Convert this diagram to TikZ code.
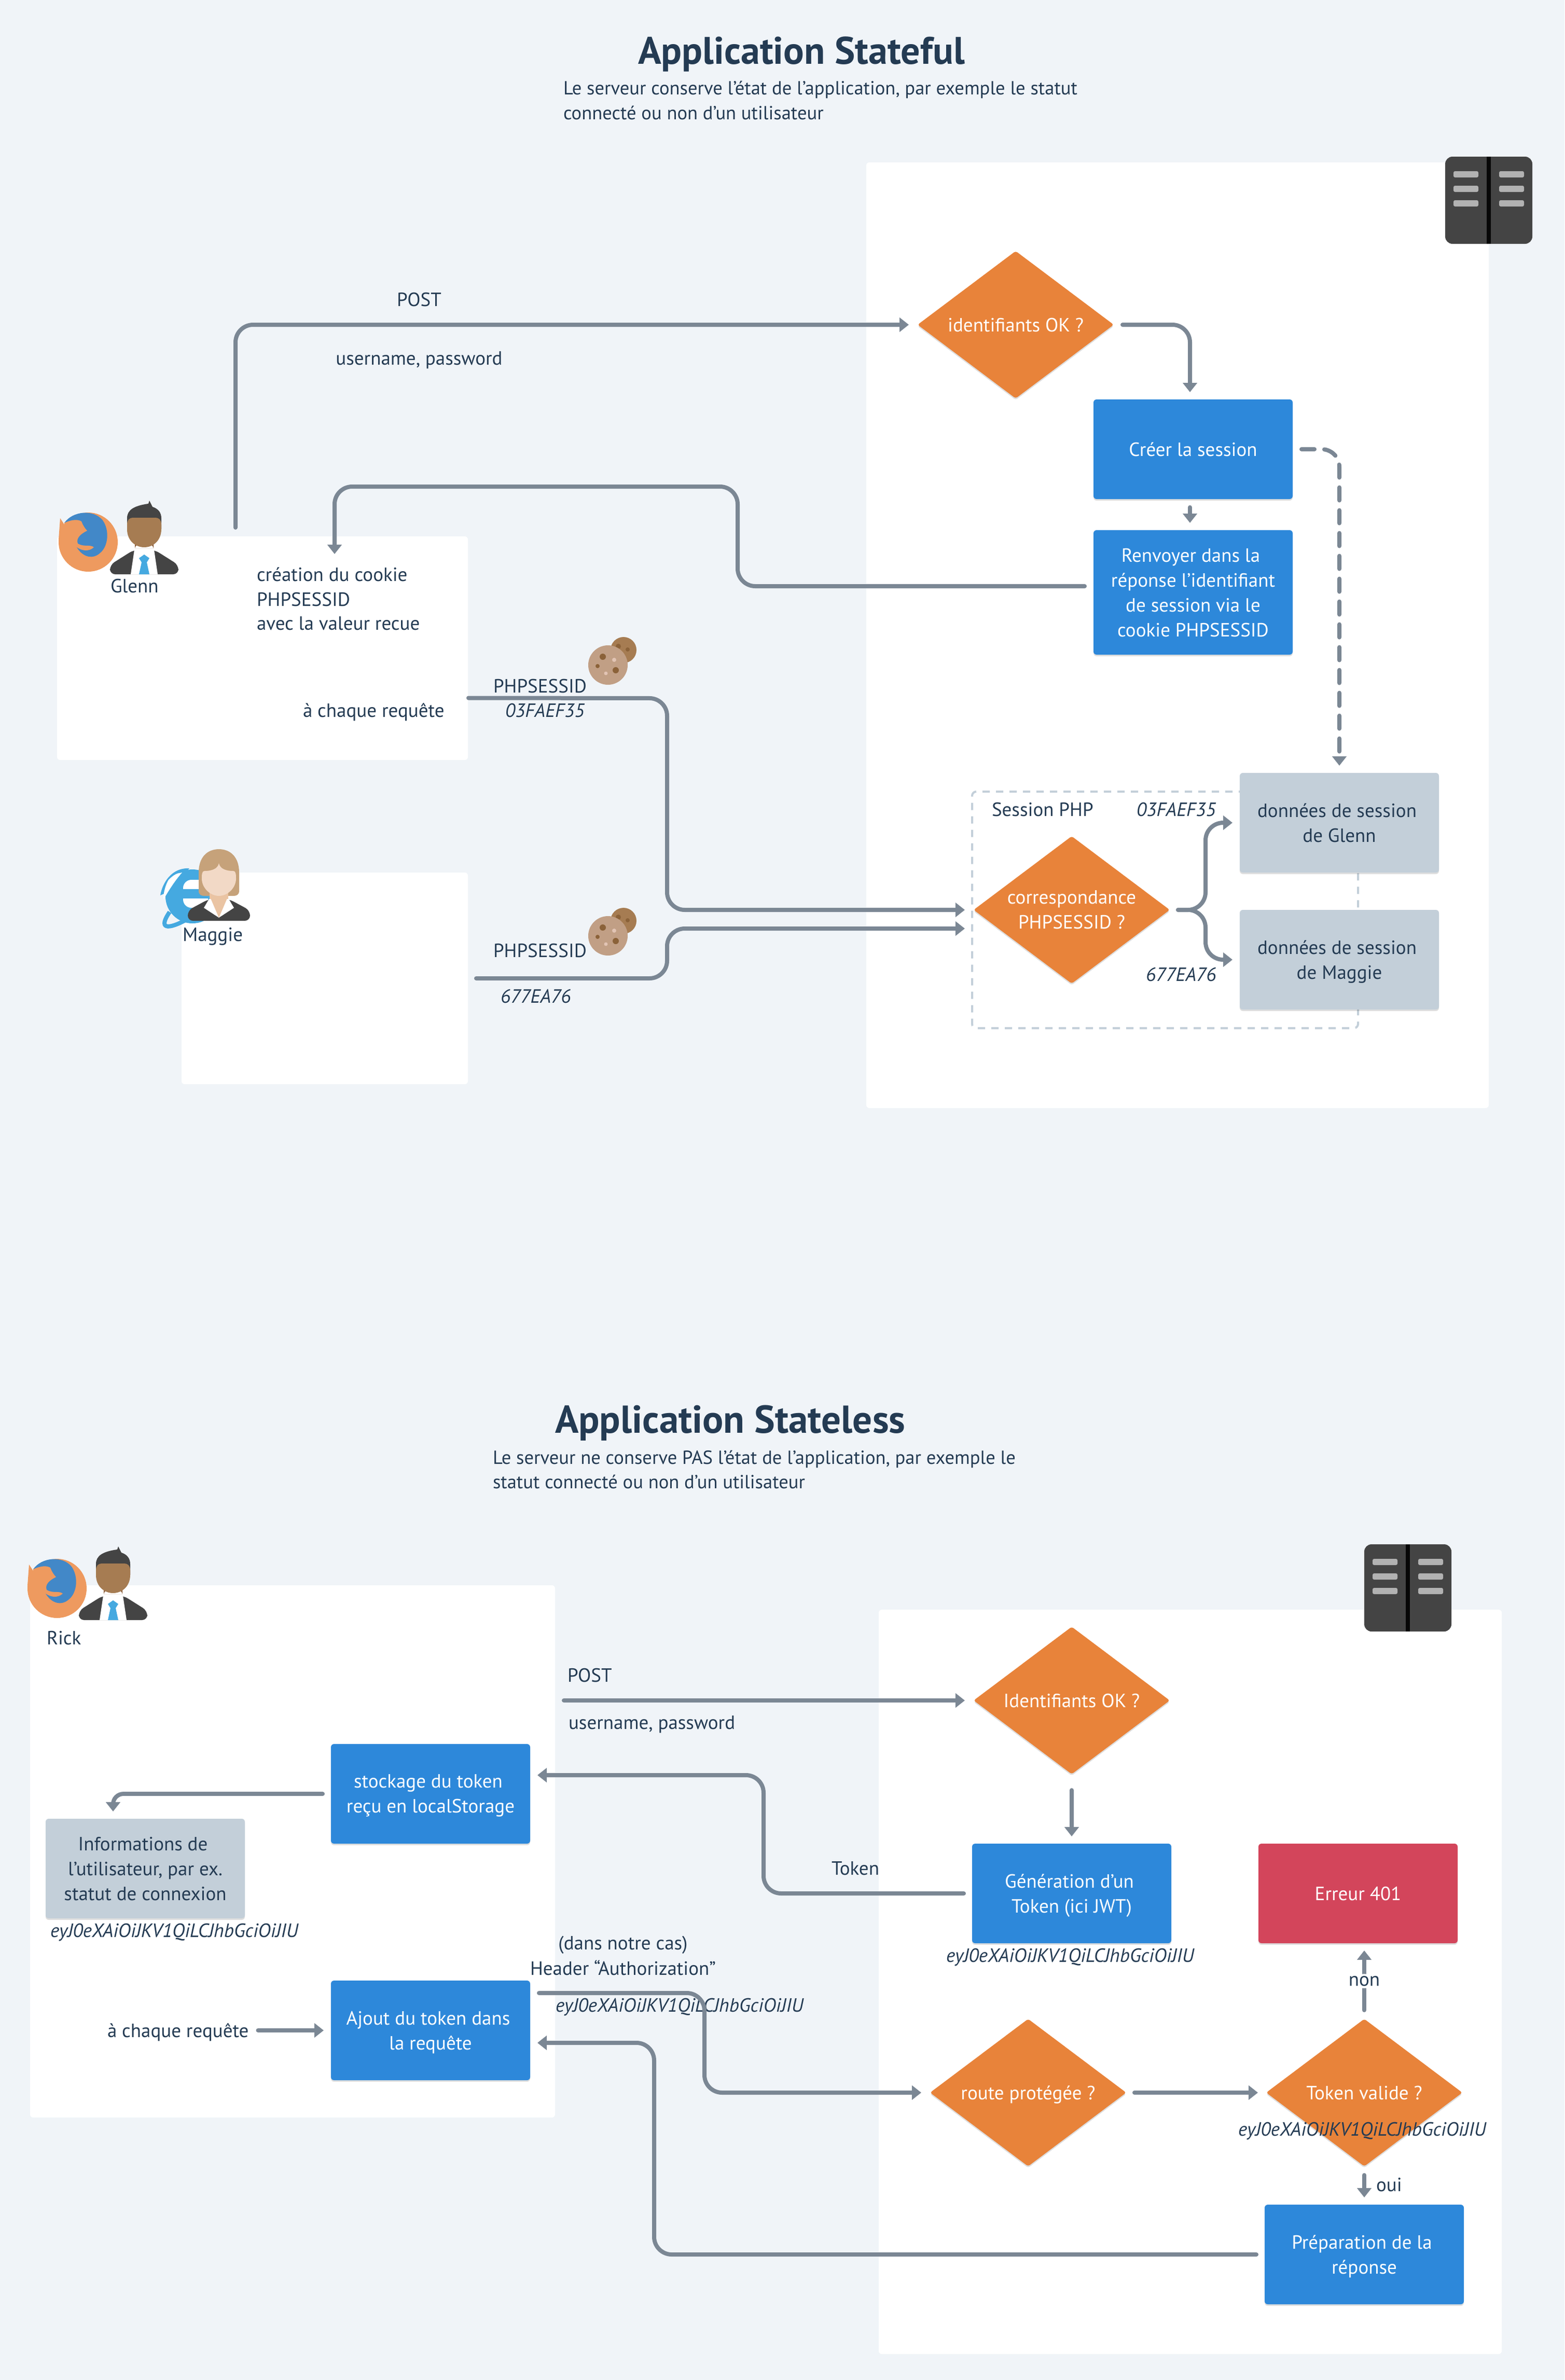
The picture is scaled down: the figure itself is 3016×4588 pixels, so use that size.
\documentclass[tikz,border=0pt]{standalone}
\usepackage{fontspec}
\setmainfont{PT Sans}
\usetikzlibrary{arrows.meta,shapes.geometric,shadows}
\definecolor{pagebg}{HTML}{F0F4F8}
\definecolor{ink}{HTML}{243B53}
\definecolor{wire}{HTML}{7B8794}
\definecolor{flowblue}{HTML}{2D88DA}
\definecolor{floworange}{HTML}{E8833A}
\definecolor{flowgrey}{HTML}{C3CFD9}
\definecolor{flowred}{HTML}{D3455B}
\definecolor{icondark}{HTML}{444444}
\definecolor{skinman}{HTML}{A67C52}
\definecolor{skinneck}{HTML}{8B5E3C}
\definecolor{hairwoman}{HTML}{C6A27A}
\definecolor{skinwoman}{HTML}{F2D9C6}
\definecolor{neckwoman}{HTML}{EAC4A3}
\definecolor{skyblue}{HTML}{45A9E0}
\definecolor{foxorange}{HTML}{EE9A5F}
\definecolor{foxblue}{HTML}{4288C8}
\definecolor{cookiedark}{HTML}{A67C52}
\definecolor{cookiebig}{HTML}{C19F85}
\definecolor{cookiespot}{HTML}{8B6239}
\definecolor{cookielight}{HTML}{E2C4B4}
\newcommand{\brk}{\hspace*{4.5pt}\\}
\tikzset{
  softshadow/.style={drop shadow={shadow xshift=0pt,shadow yshift=-1.5pt,opacity=.13,fill=black}},
  panel/.style={fill=white,rounded corners=3pt,inner sep=0pt,outer sep=0pt},
  flowbox/.style={rounded corners=3pt,inner sep=0pt,outer sep=0pt,align=center,text depth=0pt,
    minimum width=192pt,minimum height=96pt,softshadow},
  bluebox/.style={flowbox,fill=flowblue,text=white},
  greybox/.style={flowbox,fill=flowgrey,text=ink},
  redbox/.style={flowbox,fill=flowred,text=white},
  test/.style={diamond,aspect=1.33,inner sep=0pt,outer sep=0pt,minimum width=189pt,minimum height=142pt,
    rounded corners=2pt,fill=floworange,text=white,align=center,text depth=0pt,softshadow},
  lbl/.style={anchor=base west,inner sep=0pt,outer sep=0pt,text=ink},
  val/.style={lbl,font=\fontsize{18.5}{24}\selectfont\itshape},
  desc/.style={lbl,font=\fontsize{18.3}{24}\selectfont},
  headline/.style={lbl,font=\fontsize{37}{44}\selectfont\bfseries},
  mid/.style={anchor=base,inner sep=0pt,outer sep=0pt,text=ink,align=center},
  wires/.style={draw=wire,line width=4pt,line cap=round,rounded corners=17pt},
  flow/.style={wires,-{Triangle[width=13.5pt,length=9pt]}},
  bar/.style={fill=white!70!black,rounded corners=1.5pt},
  servericon/.pic={
    \fill[icondark,rounded corners=7pt] (0,0) rectangle (168,168);
    \fill[black!90!icondark] (80,0) rectangle (88,168);
    \foreach \y in {28,56,84} {
      \fill[bar] (16,\y) rectangle +(48,12);
      \fill[bar] (104,\y) rectangle +(48,12);
    }
  },
  manicon/.pic={
    \fill[icondark,rounded corners=5pt] (-66,142) -- (-66,124) -- (-20,95) -- (20,95) -- (66,124) -- (66,142) -- cycle;
    \fill[white] (-19,95) -- (19,95) -- (26,142) -- (-26,142) -- cycle;
    \fill[skinneck] (-18,70) rectangle (18,92) (-18,92) arc[start angle=180,end angle=360,x radius=18,y radius=10];
    \fill[icondark] (-33,55) -- (-33,34) .. controls (-33,18) and (-20,10) .. (8,6) -- (10,0) -- (16,12) .. controls (28,16) and (33,24) .. (33,34) -- (33,55) -- cycle;
    \fill[skinman] (-33,46) .. controls (-33,37) and (-28,33) .. (-22,33) -- (22,33) .. controls (28,33) and (33,37) .. (33,46) -- (33,55) .. controls (33,78) and (16,90) .. (0,90) .. controls (-16,90) and (-33,78) .. (-33,55) -- cycle;
    \fill[skyblue] (0,104) -- (10,111) -- (5,119) -- (10,142) -- (-10,142) -- (-5,119) -- (-10,111) -- cycle;
  },
  womanicon/.pic={
    \fill[hairwoman] (-39,80) -- (-39,45) .. controls (-39,15) and (-22,0) .. (0,0) .. controls (22,0) and (39,15) .. (39,45) -- (39,80) .. controls (39,88) and (34,90) .. (28,90) -- (-28,90) .. controls (-34,90) and (-39,88) .. (-39,80) -- cycle;
    \fill[neckwoman] (-18,80) rectangle (18,100);
    \fill[icondark,rounded corners=5pt] (-60,138) -- (-60,118) -- (-19,96) -- (19,96) -- (60,118) -- (60,138) -- cycle;
    \fill[white] (-19,96) -- (19,96) -- (29,113) -- (0,132) -- (-29,113) -- cycle;
    \fill[neckwoman] (-18,90) -- (18,90) -- (0,132) -- cycle;
    \fill[skinwoman] (0,27) .. controls (2,38) and (14,42) .. (28,42) .. controls (33,42) and (33,50) .. (33,58) .. controls (32,76) and (16,90) .. (0,90) .. controls (-16,90) and (-32,76) .. (-33,58) .. controls (-33,50) and (-33,42) .. (-28,42) .. controls (-14,42) and (-2,38) .. (0,27) -- cycle;
  },
  foxicon/.pic={
    \fill[foxorange] (0,0) circle (57);
    \fill[foxorange] (-57,-5) -- (-54,-46) -- (-38,-22) -- cycle;
    \fill[foxblue] (-46,-37) .. controls (-30,-60) and (10,-64) .. (28,-42) .. controls (42,-22) and (38,8) .. (24,20) .. controls (10,34) and (-10,30) .. (-22,10) -- (-20,-20) -- cycle;
    \fill[foxorange] (-46,-37) .. controls (-30,-44) and (-20,-44) .. (-13,-40) .. controls (-10,-32) and (-6,-26) .. (-2,-22) .. controls (-14,-16) and (-24,-8) .. (-20,3) .. controls (-8,10) and (4,4) .. (11,10) .. controls (2,18) and (-10,18) .. (-22,10) -- (-46,-10) -- cycle;
  },
  ieicon/.pic={
    \fill[skyblue] (0,0) circle (52);
    \draw[skyblue,line width=4pt] (-44,30) .. controls (-66,62) and (-50,66) .. (-10,44);
    \fill[skyblue] (-6,-54) .. controls (-40,-56) and (-58,-26) .. (-62,-2) -- (-44,-10) -- cycle;
    \fill[white] (-46,-32) .. controls (-30,-48) and (-24,-44) .. (-20,-46) .. controls (-34,-30) and (-44,-14) .. (-56,6) .. controls (-56,-8) and (-52,-22) .. (-46,-32) -- cycle;
    \fill[white,rounded corners=8pt] (-18,-32) rectangle (30,22);
    \fill[skyblue] (-18,-14) rectangle (30,4);
  },
  cookieicon/.pic={
    \fill[cookiedark] (30,-29) circle (25);
    \fill[cookiespot] (20,-36) circle (5) (38,-30) circle (4);
    \fill[cookiebig] (0,0) circle (38);
    \fill[cookiespot] (-10,-16) circle (6) (-20,2) circle (4) (15,10) circle (6);
    \fill[cookielight] (12,-10) circle (4) (-4,16) circle (3.5);
  }
}
\begin{document}
\begin{tikzpicture}[x=0.5pt,y=-0.5pt,font=\fontsize{18.5}{24}\selectfont]
\useasboundingbox (0,0) rectangle (3016,4588);
\fill[pagebg] (0,0) rectangle (3016,4588);

% stateful
\node[headline] (titlefull) at (1230,123) {Application Stateful};
\node[desc] (descfull1) at (1086,182) {Le serveur conserve l'état de l'application, par exemple le statut};
\node[desc] (descfull2) at (1086,230) {connecté ou non d'un utilisateur};

\node[panel,minimum width=600pt,minimum height=911.5pt] (srvfull) at (2270,1224.5) {};
\node[panel,minimum width=396pt,minimum height=215.5pt] (glenn) at (506,1249.5) {};
\node[panel,minimum width=276pt,minimum height=204pt] (maggie) at (626,1886) {};
\pic at (2786,302) {servericon};

\pic at (170,1045) {foxicon};
\pic at (278,965) {manicon};
\pic at (371,1728) {ieicon};
\pic at (422,1637) {womanicon};
\pic at (1172,1282) {cookieicon};
\pic at (1172,1804) {cookieicon};

\node[test] (idok) at (1958,626) {identifiants OK ?};
\node[bluebox] (creer) at (2300,866) {Créer la session};
\node[bluebox,minimum height=120pt] (renvoi) at (2300,1142) {Renvoyer dans la\brk réponse l'identifiant\brk de session via le\brk cookie PHPSESSID};

\node[draw=flowgrey,line width=2pt,dash pattern=on 7pt off 6pt,rounded corners=4pt,minimum width=372pt,minimum height=228pt,inner sep=0pt,outer sep=0pt] (sessionphp) at (2246,1754) {};
\node[greybox] (dataglenn) at (2582,1586) {données de session\brk de Glenn};
\node[greybox] (datamaggie) at (2582,1850) {données de session\brk de Maggie};
\node[test] (corresp) at (2066,1754) {correspondance\\PHPSESSID ?};

\node[mid] (postfull) at (808,590) {POST};
\node[mid] (credfull) at (808,703) {username, password};
\node[lbl] (glennname) at (213,1142) {Glenn};
\node[lbl] (cookiemake1) at (495,1120) {création du cookie};
\node[lbl] (cookiemake2) at (495,1168) {PHPSESSID};
\node[lbl] (cookiemake3) at (495,1214) {avec la valeur recue};
\node[lbl] (eachfull) at (584,1382) {à chaque requête};
\node[lbl] (glenncookie) at (951,1335) {PHPSESSID};
\node[val] (glennval) at (974,1382) {03FAEF35};
\node[lbl] (maggiename) at (352,1814) {Maggie};
\node[lbl] (maggiecookie) at (951,1845) {PHPSESSID};
\node[val] (maggieval) at (965,1933) {677EA76};
\node[lbl] (sessionname) at (1912,1573) {Session PHP};
\node[val] (sessionglenn) at (2191,1573) {03FAEF35};
\node[val] (sessionmaggie) at (2209,1891) {677EA76};

\draw[flow,shorten <=8.5pt,shorten >=8.5pt] ([xshift=-26pt]glenn.north) |- (idok.west);
\draw[flow,shorten <=8.5pt,shorten >=7pt] (idok.east) -| ([xshift=-3pt]creer.north);
\draw[flow,shorten <=8pt,shorten >=7pt] ([xshift=-3pt]creer.south) -- ([xshift=-3pt]renvoi.north);
\draw[flow,shorten <=8.5pt] ([yshift=6pt]renvoi.west) -- (1422,1130) -- (1422,938) -- (645,938) -- ([xshift=69.5pt,yshift=-17pt]glenn.north);
\draw[flow,dash pattern=on 12.5pt off 9.5pt,shorten <=8.5pt,shorten >=7pt] (creer.east) -| (dataglenn.north);
\draw[flow,shorten >=8.5pt] ([xshift=0.5pt,yshift=-48pt]glenn.east) -- (1286,1346) -- (1286,1754) -- (corresp.west);
\draw[flow,shorten <=8pt,shorten >=8.5pt] (maggie.east) -- (1286,1886) -- (1286,1790) -- ([yshift=-18pt]corresp.west);
\draw[flow,shorten <=8pt,shorten >=7pt] (corresp.east) -- (2324,1754) -- (2324,1586) -- (dataglenn.west);
\draw[flow,shorten <=8pt,shorten >=7pt] (corresp.east) -- (2324,1754) -- (2324,1850) -- (datamaggie.west);

% stateless
\node[headline,font=\fontsize{37.5}{44}\selectfont\bfseries] (titleless) at (1070,2762) {Application Stateless};
\node[desc] (descless1) at (950,2822) {Le serveur ne conserve PAS l'état de l'application, par exemple le};
\node[desc] (descless2) at (950,2869) {statut connecté ou non d'un utilisateur};

\node[panel,minimum width=600.5pt,minimum height=717.5pt] (srvless) at (2294.5,3820.5) {};
\node[panel,minimum width=506pt,minimum height=513pt] (rick) at (564,3569) {};
\pic at (2630,2977) {servericon};
\pic at (110,3062) {foxicon};
\pic at (218,2981) {manicon};

\node[bluebox] (stockage) at (830,3458) {stockage du token\brk reçu en localStorage};
\node[bluebox] (ajout) at (830,3914) {Ajout du token dans\brk la requête};
\node[greybox] (infos) at (280,3602) {Informations de\brk l'utilisateur, par ex.\brk statut de connexion};
\node[test] (idokless) at (2066,3278) {Identifiants OK ?};
\node[bluebox] (generer) at (2066,3650) {Génération d'un\brk Token (ici JWT)};
\node[redbox] (erreur) at (2618,3650) {Erreur 401};
\node[test] (route) at (1982,4034) {route protégée ?};
\node[test] (valide) at (2630,4034) {Token valide ?};
\node[bluebox] (prepa) at (2630,4346) {Préparation de la\brk réponse};

\node[lbl] (rickname) at (90,3170) {Rick};
\node[val] (tokeninfos) at (97,3734) {eyJ0eXAiOiJKV1QiLCJhbGciOiJIU};
\node[lbl] (eachless) at (207,3927) {à chaque requête};
\node[lbl] (postless) at (1094,3242) {POST};
\node[lbl] (credless) at (1096,3333) {username, password};
\node[lbl] (tokenname) at (1603,3614) {Token};
\node[mid] (casname) at (1201,3758) {(dans notre cas)};
\node[mid] (headername) at (1201,3807) {Header “Authorization”};
\node[val] (tokenheader) at (1071,3878) {eyJ0eXAiOiJKV1QiLCJhbGciOiJIU};
\node[val] (tokengen) at (1824,3782) {eyJ0eXAiOiJKV1QiLCJhbGciOiJIU};
\node[val] (tokenvalid) at (2387,4117) {eyJ0eXAiOiJKV1QiLCJhbGciOiJIU};
\node[lbl] (ouiname) at (2653,4224) {oui};

\draw[flow,shorten >=8.5pt] (1087,3278) -- (idokless.west);
\draw[flow,shorten <=15.5pt,shorten >=7pt] (idokless.south) -- (generer.north);
\draw[flow,shorten <=8pt,shorten >=7pt] (generer.west) -- (1472,3650) -- (1472,3422) -- ([yshift=18pt]stockage.east);
\draw[flow,rounded corners=10pt,shorten <=8pt,shorten >=7pt] (stockage.west) -- (218,3458) -- ([xshift=-31pt]infos.north);
\draw[flow,shorten >=7pt] (eachless.base east |- ajout.west) ++(18,0) -- (ajout.west);
\draw[flow,shorten >=8.5pt] (1039,3842) -- (1358,3842) -- (1358,4034) -- (route.west);
\draw[flow,shorten <=8pt,shorten >=8pt] (route.east) -- (valide.west);
\draw[flow,shorten <=8.5pt,shorten >=7pt] (valide.south) -- (prepa.north);
\draw[flow,shorten <=8pt,shorten >=7pt] (prepa.west) -- (1261,4346) -- (1261,3938) -- ([yshift=-12pt]ajout.east);
\draw[flow,shorten <=8.5pt,shorten >=7pt] (valide.north) -- node[fill=white,text=ink,inner sep=2pt,outer sep=0pt] (nonname) {non} ([xshift=6pt]erreur.south);
\end{tikzpicture}
\end{document}
